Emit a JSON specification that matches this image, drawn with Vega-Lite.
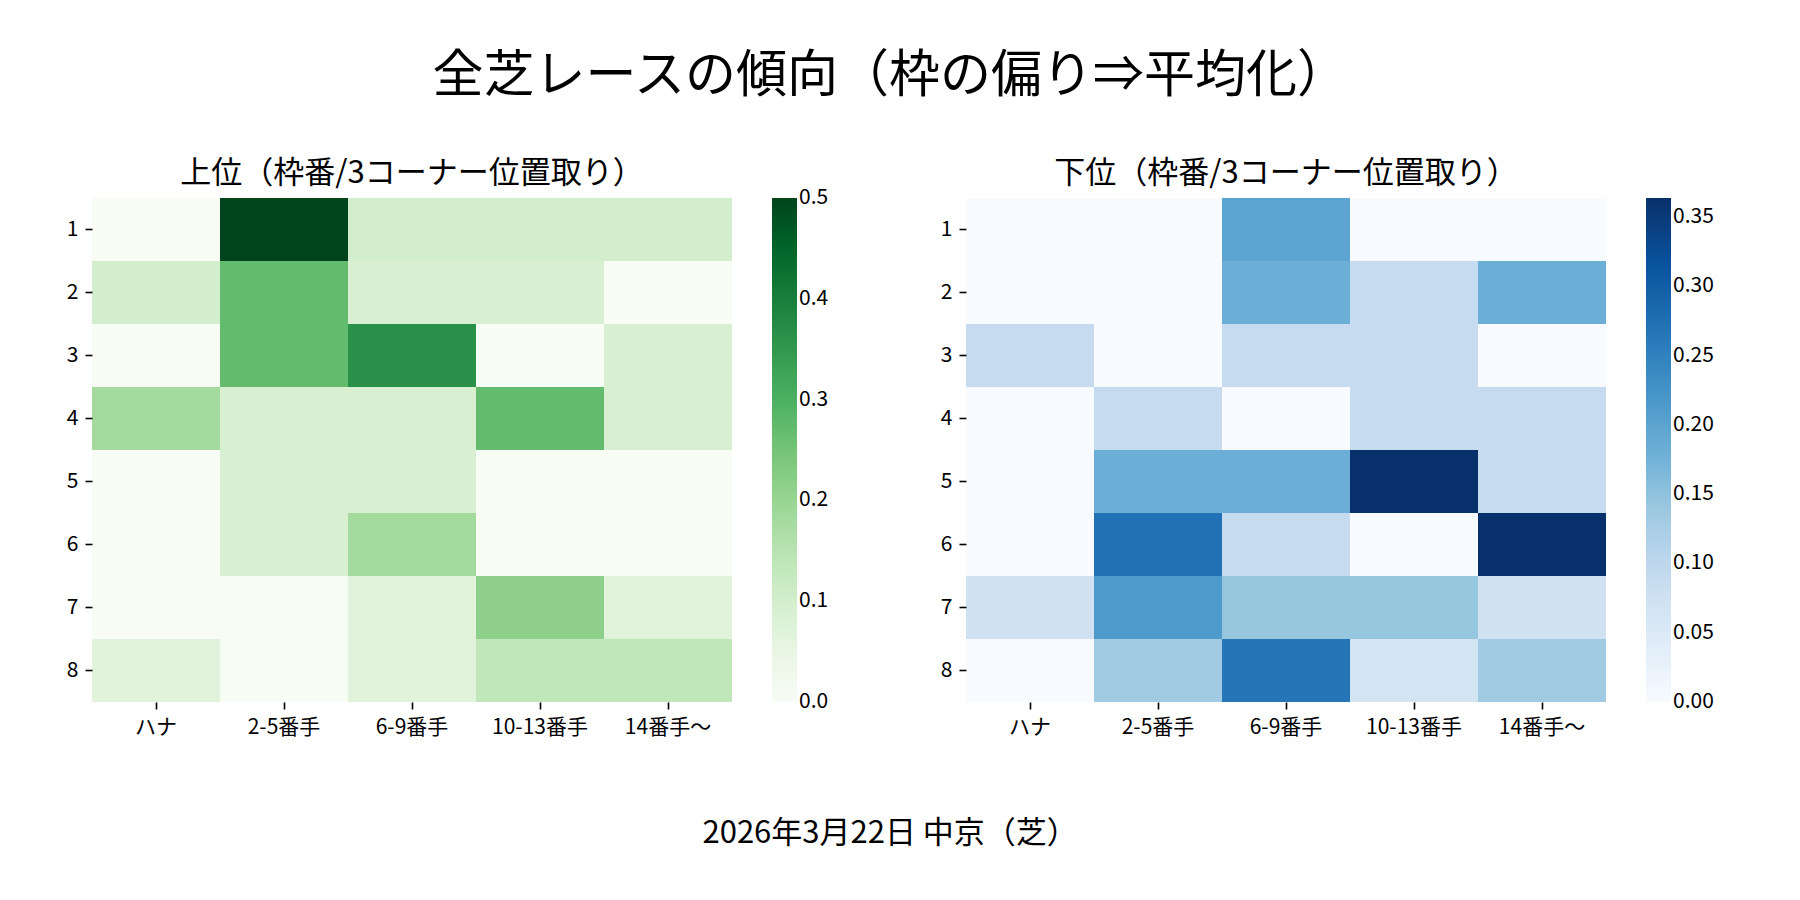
{
  "$schema": "https://vega.github.io/schema/vega-lite/v6.json",
  "background": "white",
  "padding": {"left": 66, "top": 51, "right": 20, "bottom": 20},
  "title": {
    "text": "全芝レースの傾向（枠の偏り⇒平均化）",
    "fontSize": 51,
    "fontWeight": "normal",
    "anchor": "middle",
    "offset": 55
  },
  "config": {
    "font": "Noto Sans CJK JP",
    "view": {"stroke": null},
    "title": {"fontSize": 31, "fontWeight": "normal", "color": "black", "offset": 8},
    "axis": {
      "domain": false,
      "grid": false,
      "ticks": true,
      "tickSize": 7,
      "tickWidth": 1.6,
      "tickColor": "black",
      "labelFontSize": 21,
      "labelColor": "black",
      "labelPadding": 7,
      "labelAngle": 0
    },
    "legend": {
      "gradientLength": 504,
      "gradientThickness": 25,
      "gradientStrokeWidth": 0,
      "offset": 40,
      "padding": 0,
      "labelFontSize": 21,
      "labelColor": "black",
      "labelOffset": 15
    }
  },
  "datasets": {
    "upper": [
      {"frame": "1", "pos": "ハナ", "v": 0}, {"frame": "1", "pos": "2-5番手", "v": 0.5}, {"frame": "1", "pos": "6-9番手", "v": 0.1}, {"frame": "1", "pos": "10-13番手", "v": 0.1}, {"frame": "1", "pos": "14番手～", "v": 0.1},
      {"frame": "2", "pos": "ハナ", "v": 0.1}, {"frame": "2", "pos": "2-5番手", "v": 0.2727}, {"frame": "2", "pos": "6-9番手", "v": 0.0909}, {"frame": "2", "pos": "10-13番手", "v": 0.0909}, {"frame": "2", "pos": "14番手～", "v": 0},
      {"frame": "3", "pos": "ハナ", "v": 0}, {"frame": "3", "pos": "2-5番手", "v": 0.2727}, {"frame": "3", "pos": "6-9番手", "v": 0.3636}, {"frame": "3", "pos": "10-13番手", "v": 0}, {"frame": "3", "pos": "14番手～", "v": 0.0909},
      {"frame": "4", "pos": "ハナ", "v": 0.1818}, {"frame": "4", "pos": "2-5番手", "v": 0.0909}, {"frame": "4", "pos": "6-9番手", "v": 0.0909}, {"frame": "4", "pos": "10-13番手", "v": 0.2727}, {"frame": "4", "pos": "14番手～", "v": 0.0909},
      {"frame": "5", "pos": "ハナ", "v": 0}, {"frame": "5", "pos": "2-5番手", "v": 0.0909}, {"frame": "5", "pos": "6-9番手", "v": 0.0909}, {"frame": "5", "pos": "10-13番手", "v": 0}, {"frame": "5", "pos": "14番手～", "v": 0},
      {"frame": "6", "pos": "ハナ", "v": 0}, {"frame": "6", "pos": "2-5番手", "v": 0.0909}, {"frame": "6", "pos": "6-9番手", "v": 0.1818}, {"frame": "6", "pos": "10-13番手", "v": 0}, {"frame": "6", "pos": "14番手～", "v": 0},
      {"frame": "7", "pos": "ハナ", "v": 0}, {"frame": "7", "pos": "2-5番手", "v": 0}, {"frame": "7", "pos": "6-9番手", "v": 0.0714}, {"frame": "7", "pos": "10-13番手", "v": 0.2143}, {"frame": "7", "pos": "14番手～", "v": 0.0714},
      {"frame": "8", "pos": "ハナ", "v": 0.0714}, {"frame": "8", "pos": "2-5番手", "v": 0}, {"frame": "8", "pos": "6-9番手", "v": 0.0714}, {"frame": "8", "pos": "10-13番手", "v": 0.1364}, {"frame": "8", "pos": "14番手～", "v": 0.1364}
    ],
    "lower": [
      {"frame": "1", "pos": "ハナ", "v": 0}, {"frame": "1", "pos": "2-5番手", "v": 0}, {"frame": "1", "pos": "6-9番手", "v": 0.2}, {"frame": "1", "pos": "10-13番手", "v": 0}, {"frame": "1", "pos": "14番手～", "v": 0},
      {"frame": "2", "pos": "ハナ", "v": 0}, {"frame": "2", "pos": "2-5番手", "v": 0}, {"frame": "2", "pos": "6-9番手", "v": 0.1818}, {"frame": "2", "pos": "10-13番手", "v": 0.0909}, {"frame": "2", "pos": "14番手～", "v": 0.1818},
      {"frame": "3", "pos": "ハナ", "v": 0.0909}, {"frame": "3", "pos": "2-5番手", "v": 0}, {"frame": "3", "pos": "6-9番手", "v": 0.0909}, {"frame": "3", "pos": "10-13番手", "v": 0.0909}, {"frame": "3", "pos": "14番手～", "v": 0},
      {"frame": "4", "pos": "ハナ", "v": 0}, {"frame": "4", "pos": "2-5番手", "v": 0.0909}, {"frame": "4", "pos": "6-9番手", "v": 0}, {"frame": "4", "pos": "10-13番手", "v": 0.0909}, {"frame": "4", "pos": "14番手～", "v": 0.0909},
      {"frame": "5", "pos": "ハナ", "v": 0}, {"frame": "5", "pos": "2-5番手", "v": 0.1818}, {"frame": "5", "pos": "6-9番手", "v": 0.1818}, {"frame": "5", "pos": "10-13番手", "v": 0.3636}, {"frame": "5", "pos": "14番手～", "v": 0.0909},
      {"frame": "6", "pos": "ハナ", "v": 0}, {"frame": "6", "pos": "2-5番手", "v": 0.2727}, {"frame": "6", "pos": "6-9番手", "v": 0.0909}, {"frame": "6", "pos": "10-13番手", "v": 0}, {"frame": "6", "pos": "14番手～", "v": 0.3636},
      {"frame": "7", "pos": "ハナ", "v": 0.0714}, {"frame": "7", "pos": "2-5番手", "v": 0.2143}, {"frame": "7", "pos": "6-9番手", "v": 0.1429}, {"frame": "7", "pos": "10-13番手", "v": 0.1429}, {"frame": "7", "pos": "14番手～", "v": 0.0714},
      {"frame": "8", "pos": "ハナ", "v": 0}, {"frame": "8", "pos": "2-5番手", "v": 0.1333}, {"frame": "8", "pos": "6-9番手", "v": 0.2667}, {"frame": "8", "pos": "10-13番手", "v": 0.0667}, {"frame": "8", "pos": "14番手～", "v": 0.1333}
    ]
  },
  "vconcat": [
    {
      "title": {
        "text": "2026年3月22日 中京（芝）",
        "orient": "bottom",
        "anchor": "middle",
        "fontSize": 31,
        "offset": 82
      },
      "spacing": 111,
      "resolve": {"scale": {"color": "independent"}, "legend": {"color": "independent"}},
      "hconcat": [
        {
          "data": {"name": "upper"},
          "width": 640,
          "height": 504,
          "title": {"text": "上位（枠番/3コーナー位置取り）", "frame": "group"},
          "mark": {"type": "rect"},
          "encoding": {
            "x": {
              "field": "pos",
              "type": "nominal",
              "sort": ["ハナ", "2-5番手", "6-9番手", "10-13番手", "14番手～"],
              "title": null,
              "scale": {"paddingInner": 0, "paddingOuter": 0}
            },
            "y": {
              "field": "frame",
              "type": "nominal",
              "sort": ["1", "2", "3", "4", "5", "6", "7", "8"],
              "title": null,
              "scale": {"paddingInner": 0, "paddingOuter": 0}
            },
            "color": {
              "field": "v",
              "type": "quantitative",
              "scale": {
                "domain": [0, 0.0625, 0.125, 0.1875, 0.25, 0.3125, 0.375, 0.4375, 0.5],
                "range": ["#f7fcf5", "#e5f5e0", "#c7e9c0", "#a1d99b", "#74c476", "#41ab5d", "#238b45", "#006d2c", "#00441b"]
              },
              "legend": {
                "title": null,
                "values": [0, 0.1, 0.2, 0.3, 0.4, 0.5],
                "format": ".1f",
                "encode": {"labels": {"update": {"baseline": {"value": "middle"}}}}
              }
            }
          }
        },
        {
          "data": {"name": "lower"},
          "width": 640,
          "height": 504,
          "title": {"text": "下位（枠番/3コーナー位置取り）", "frame": "group"},
          "mark": {"type": "rect"},
          "encoding": {
            "x": {
              "field": "pos",
              "type": "nominal",
              "sort": ["ハナ", "2-5番手", "6-9番手", "10-13番手", "14番手～"],
              "title": null,
              "scale": {"paddingInner": 0, "paddingOuter": 0}
            },
            "y": {
              "field": "frame",
              "type": "nominal",
              "sort": ["1", "2", "3", "4", "5", "6", "7", "8"],
              "title": null,
              "scale": {"paddingInner": 0, "paddingOuter": 0}
            },
            "color": {
              "field": "v",
              "type": "quantitative",
              "scale": {
                "domain": [0, 0.04545, 0.09091, 0.13636, 0.18182, 0.22727, 0.27273, 0.31818, 0.36364],
                "range": ["#f7fbff", "#deebf7", "#c6dbef", "#9ecae1", "#6baed6", "#4292c6", "#2171b5", "#08519c", "#08306b"]
              },
              "legend": {
                "title": null,
                "values": [0, 0.05, 0.1, 0.15, 0.2, 0.25, 0.3, 0.35],
                "format": ".2f",
                "encode": {"labels": {"update": {"baseline": {"value": "middle"}}}}
              }
            }
          }
        }
      ]
    }
  ]
}
